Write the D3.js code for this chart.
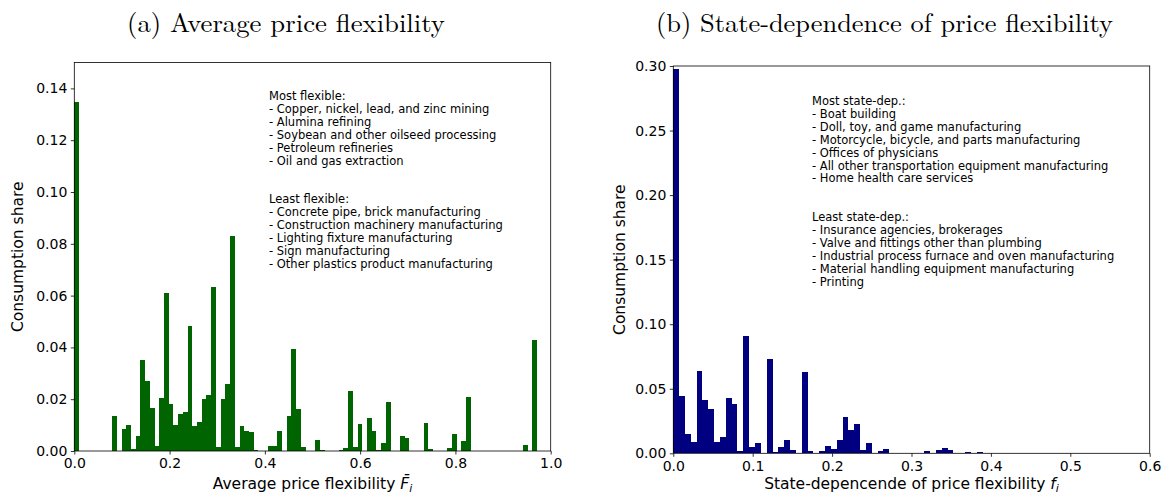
<!DOCTYPE html>
<html lang="en">
<head>
<meta charset="UTF-8">
<title>Price flexibility histograms</title>
<script src="https://cdn.jsdelivr.net/npm/d3@7"></script>
<style>
body{margin:0;background:#fff}
svg{display:block}
.axis text{font-family:"DejaVu Sans",sans-serif;font-size:14px;fill:#000}
.axis line{stroke:#000;stroke-width:0.8}
.axis path{display:none}
.frame{fill:none;stroke:#000;stroke-width:0.8}
.title{font-family:"Latin Modern Roman","CMU Serif","Liberation Serif",serif;font-size:26px;fill:#000}
.label{font-family:"DejaVu Sans",sans-serif;font-size:15.5px;fill:#000}
.note{font-family:"DejaVu Sans",sans-serif;font-size:11.5px;fill:#000}
</style>
</head>
<body>
<svg id="chart" width="1163" height="498"></svg>
<script>
// (a) average price flexibility: histogram bins (index) with a non-zero share
var flexBinWidth = 0.00991;
var flexBins   = [0, 8, 10, 11, 12, 13, 14, 15, 16, 17, 18, 19, 20, 21, 22, 23, 24, 25, 26, 27, 28, 29,
                  30, 31, 32, 33, 34, 35, 36, 37, 38, 41, 42, 43, 45, 46, 47, 48, 51, 52, 56, 57, 58, 59,
                  60, 62, 63, 64, 65, 66, 69, 70, 74, 75, 79, 80, 82, 83, 95, 97];
var flexShares = [0.1346, 0.0135, 0.0086, 0.0100, 0.0009, 0.0058, 0.0351, 0.0270, 0.0166, 0.0019, 0.0205, 0.0610,
                  0.0181, 0.0102, 0.0143, 0.0151, 0.0483, 0.0097, 0.0113, 0.0201, 0.0217, 0.0633,
                  0.0015, 0.0201, 0.0260, 0.0831, 0.0015, 0.0097, 0.0078, 0.0075, 0.0005, 0.0021, 0.0021, 0.0078,
                  0.0135, 0.0395, 0.0162, 0.0015, 0.0042, 0.0004, 0.0004, 0.0012, 0.0232, 0.0015,
                  0.0104, 0.0127, 0.0078, 0.0004, 0.0031, 0.0190, 0.0058, 0.0050, 0.0108, 0.0009, 0.0013, 0.0067,
                  0.0040, 0.0208, 0.0023, 0.0428];
var flexXTicks = [0, 0.2, 0.4, 0.6, 0.8, 1.0];
var flexYTicks = [0, 0.02, 0.04, 0.06, 0.08, 0.10, 0.12, 0.14];
var mostFlexible  = ['Copper, nickel, lead, and zinc mining', 'Alumina refining',
                     'Soybean and other oilseed processing', 'Petroleum refineries', 'Oil and gas extraction'];
var leastFlexible = ['Concrete pipe, brick manufacturing', 'Construction machinery manufacturing',
                     'Lighting fixture manufacturing', 'Sign manufacturing', 'Other plastics product manufacturing'];

// (b) state-dependence of price flexibility
var stateBinWidth = 0.00735;
var stateBins   = [0, 1, 2, 3, 4, 5, 6, 7, 8, 9, 10, 11, 12, 13, 14, 16, 17, 18, 19, 20,
                   22, 23, 25, 26, 27, 28, 29, 30, 31, 32, 33, 35, 36, 43, 45, 46, 47, 50, 52];
var stateShares = [0.2977, 0.0442, 0.0147, 0.0085, 0.0635, 0.0411, 0.0341, 0.0085, 0.0124, 0.0426, 0.0380,
                   0.0015, 0.0906, 0.0046, 0.0077, 0.0728, 0.0008, 0.0046, 0.0101, 0.0023,
                   0.0627, 0.0015, 0.0015, 0.0054, 0.0031, 0.0101, 0.0279, 0.0178, 0.0225, 0.0023, 0.0077,
                   0.0015, 0.0031, 0.0017, 0.0026, 0.0040, 0.0026, 0.0012, 0.0012];
var stateXTicks = [0, 0.1, 0.2, 0.3, 0.4, 0.5, 0.6];
var stateYTicks = [0, 0.05, 0.10, 0.15, 0.20, 0.25, 0.30];
var mostStateDep  = ['Boat building', 'Doll, toy, and game manufacturing', 'Motorcycle, bicycle, and parts manufacturing',
                     'Offices of physicians', 'All other transportation equipment manufacturing', 'Home health care services'];
var leastStateDep = ['Insurance agencies, brokerages', 'Valve and fittings other than plumbing',
                     'Industrial process furnace and oven manufacturing', 'Material handling equipment manufacturing', 'Printing'];

var svg = d3.select('#chart');

function drawPanel(p) {
  var x = d3.scaleLinear().domain(p.xDomain).range(p.xRange);
  var y = d3.scaleLinear().domain(p.yDomain).range(p.yRange);
  var g = svg.append('g');

  var rows = p.bins.map(function(b, k) { return { i: b, v: p.shares[k] }; });
  g.selectAll('rect.bar').data(rows).join('rect')
    .attr('class', 'bar')
    .attr('x', function(d) { return x(d.i * p.binWidth); })
    .attr('width', function(d) { return x((d.i + 1) * p.binWidth) - x(d.i * p.binWidth); })
    .attr('y', function(d) { return y(d.v); })
    .attr('height', function(d) { return y(0) - y(d.v); })
    .attr('fill', p.color)
    .attr('shape-rendering', 'crispEdges');

  g.append('g').attr('class', 'axis')
    .attr('transform', 'translate(0,' + p.yRange[0] + ')')
    .call(d3.axisBottom(x).tickValues(p.xTicks).tickFormat(d3.format('.1f')).tickSize(3.5).tickPadding(4));

  g.append('g').attr('class', 'axis')
    .attr('transform', 'translate(' + p.xRange[0] + ',0)')
    .call(d3.axisLeft(y).tickValues(p.yTicks).tickFormat(d3.format('.2f')).tickSize(3.5).tickPadding(3.5));

  g.append('rect').attr('class', 'frame')
    .attr('x', p.xRange[0]).attr('y', p.yRange[1])
    .attr('width', p.xRange[1] - p.xRange[0]).attr('height', p.yRange[0] - p.yRange[1]);

  // title
  svg.append('text').attr('class', 'title')
    .attr('x', p.titleX).attr('y', 32).attr('text-anchor', 'middle')
    .attr('textLength', p.titleWidth).attr('lengthAdjust', 'spacingAndGlyphs')
    .text(p.title);

  // y label
  svg.append('text').attr('class', 'label')
    .attr('transform', 'translate(' + p.yLabelX + ',' + (p.yRange[0] + p.yRange[1]) / 2 + ') rotate(-90)')
    .attr('text-anchor', 'middle')
    .text('Consumption share');

  // x label with italic symbol and subscript
  var xl = svg.append('text').attr('class', 'label')
    .attr('x', (p.xRange[0] + p.xRange[1]) / 2).attr('y', 489).attr('text-anchor', 'middle');
  xl.append('tspan').text(p.xLabel + ' ');
  xl.append('tspan').attr('font-style', 'italic').text(p.symbol);
  xl.append('tspan').attr('font-style', 'italic').attr('font-size', '11px').attr('dy', 3).text('i');

  // annotation block
  var lines = [p.mostHead].concat(p.most.map(function(s) { return '- ' + s; }), ['', ''],
    [p.leastHead], p.least.map(function(s) { return '- ' + s; }));
  var note = svg.append('text').attr('class', 'note');
  note.selectAll('tspan').data(lines).join('tspan')
    .attr('x', p.noteX)
    .attr('y', function(d, k) { return p.noteY + k * 12.9; })
    .text(function(d) { return d; });
}

drawPanel({
  bins: flexBins, shares: flexShares, binWidth: flexBinWidth, color: '#006400',
  xDomain: [0, 1], xRange: [74.3, 550.7], yDomain: [0, 0.15], yRange: [451, 62.5],
  xTicks: flexXTicks, yTicks: flexYTicks,
  title: '(a) Average price flexibility', titleX: 286, titleWidth: 318,
  yLabelX: 23, xLabel: 'Average price flexibility', symbol: 'F\u0304',
  mostHead: 'Most flexible:', most: mostFlexible, leastHead: 'Least flexible:', least: leastFlexible,
  noteX: 269, noteY: 100
});

drawPanel({
  bins: stateBins, shares: stateShares, binWidth: stateBinWidth, color: '#000080',
  xDomain: [0, 0.6], xRange: [673.3, 1149.7], yDomain: [0, 0.30], yRange: [453.3, 66],
  xTicks: stateXTicks, yTicks: stateYTicks,
  title: '(b) State-dependence of price flexibility', titleX: 884.5, titleWidth: 457,
  yLabelX: 625, xLabel: 'State-depencende of price flexibility', symbol: 'f',
  mostHead: 'Most state-dep.:', most: mostStateDep, leastHead: 'Least state-dep.:', least: leastStateDep,
  noteX: 812, noteY: 105
});
</script>
</body>
</html>
